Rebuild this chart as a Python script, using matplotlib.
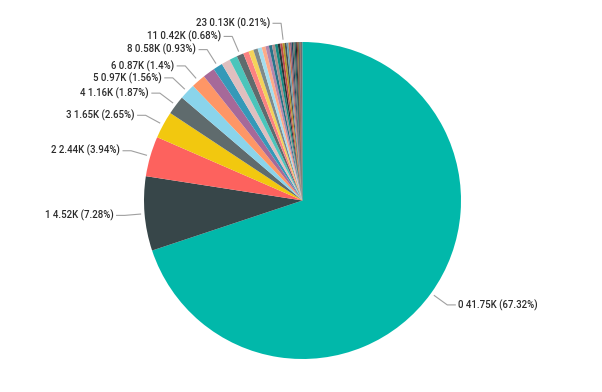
import numpy as np
import matplotlib
matplotlib.use('Agg')
import matplotlib.pyplot as plt

# slice values in thousands, categories 0..41 (clockwise from 12 o'clock)
categories = list(range(42))
values_k = [41.75, 4.52, 2.44, 1.65, 1.16, 0.97, 0.87, 0.73, 0.58, 0.53,
            0.48, 0.42, 0.34, 0.30, 0.27, 0.25, 0.23, 0.21, 0.19, 0.18,
            0.17, 0.15, 0.14, 0.13, 0.118, 0.112, 0.099, 0.093, 0.087, 0.081,
            0.074, 0.068, 0.062, 0.056, 0.050, 0.043, 0.037, 0.031, 0.025, 0.019,
            0.012, 0.012]
# only some slices carry a data label
labeled = [0, 1, 2, 3, 4, 5, 6, 8, 11, 23]
label_pct = ['67.32%', '7.28%', '3.94%', '2.65%', '1.87%', '1.56%', '1.4%', '0.93%', '0.68%', '0.21%']

palette = ['#01B8AA', '#374649', '#FD625E', '#F2C80F', '#5F6B6D', '#8AD4EB', '#FE9666', '#A66999',
           '#3599B8', '#DFBFBF', '#4AC5BB', '#5F6B6D', '#FB8281', '#F4D25A', '#7F898A', '#A4DDEE',
           '#FDAB89', '#B687AC', '#28738A', '#A78F8F', '#168980', '#293537', '#BB4A4A', '#B59525',
           '#475052', '#6A9FB0', '#BD7150', '#7B4F71', '#1B4D5C', '#706060', '#0F5C55', '#1C2325',
           '#7D3231', '#796419', '#303637', '#476A75', '#7E4B36', '#52354C', '#0D262E', '#544848']
colors = [palette[i % len(palette)] for i in range(len(values_k))]

plt.rcParams['font.family'] = ['Roboto', 'DejaVu Sans']

fig = plt.figure(figsize=(6.02, 3.92), dpi=100)
ax = fig.add_axes([0, 0, 1, 1])

cx, cy, r = 302.5, 191.5, 158.5
wedges, _ = ax.pie(values_k, colors=colors, startangle=90, counterclock=False,
                   center=(cx, cy), radius=r, frame=True,
                   wedgeprops=dict(linewidth=0))
ax.set_xlim(0, 602)
ax.set_ylim(0, 392)
ax.axis('off')

for cat, pct in zip(labeled, label_pct):
    w = wedges[cat]
    ang = np.deg2rad((w.theta1 + w.theta2) / 2)
    c, s = np.cos(ang), np.sin(ang)
    p0 = (cx + (r + 4) * c, cy + (r + 4) * s)
    p1 = (cx + (r + 20) * c, cy + (r + 20) * s)
    side = 1 if c > 0 else -1
    p2 = (p1[0] + side * 8, p1[1])
    ax.plot([p0[0], p1[0], p2[0]], [p0[1], p1[1], p2[1]], color='#a0a0a0', lw=0.8)
    txt = f'{cat} {values_k[cat]:.2f}K ({pct})'
    ax.text(p2[0] + side * 3, p2[1], txt, ha='left' if side > 0 else 'right',
            va='center', fontsize=6.9, color='#2b2b2b', fontweight='medium')

fig.savefig('out.png', dpi=100)
